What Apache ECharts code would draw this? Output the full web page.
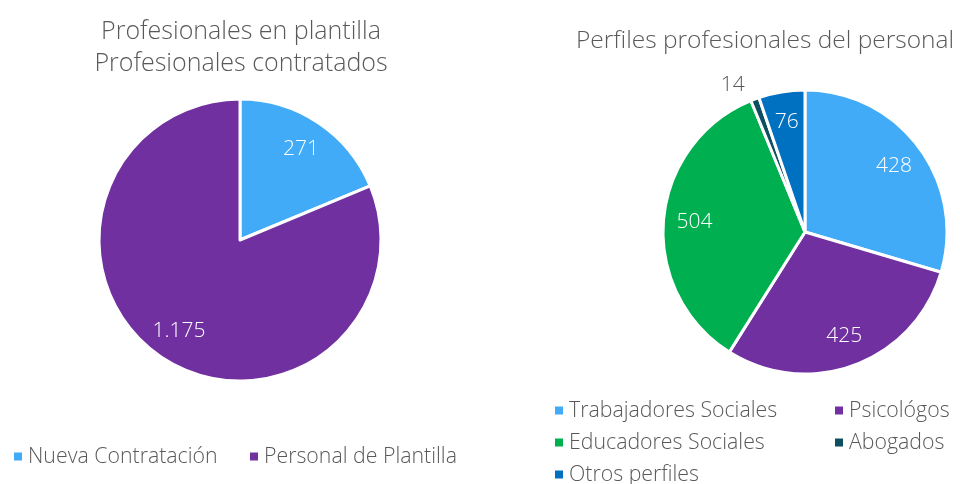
<!DOCTYPE html>
<html>
<head>
<meta charset="utf-8">
<script src="https://cdn.jsdelivr.net/npm/echarts@6/dist/echarts.min.js"></script>
<style>
  html, body { margin: 0; padding: 0; background: #fff; }
  #chart { width: 960px; height: 484px; }
</style>
</head>
<body>
<div id="chart"></div>
<script>
// left pie: contratados vs plantilla
var plantillaNames = ['Nueva Contratación', 'Personal de Plantilla'];
var plantillaValues = [271, 1175];
var plantillaColors = ['#41abf7', '#7030a0'];

// right pie: perfiles
var perfilNames = ['Trabajadores Sociales', 'Psicológos', 'Educadores Sociales', 'Abogados', 'Otros perfiles'];
var perfilValues = [428, 425, 504, 14, 76];
var perfilColors = ['#41abf7', '#7030a0', '#00b050', '#0d4f60', '#0070c0'];

var textGrey = '#595959';
var font = 'Open Sans';

function fmt(v) {
    // spanish thousands separator
    return String(v).replace(/\B(?=(\d{3})+(?!\d))/g, '.');
}

function pieData(names, values, colors) {
    return names.map(function (n, i) {
        return {name: n, value: values[i], itemStyle: {color: colors[i]}};
    });
}

// invisible ring, only used to put the labels further out than the middle
function labelData(names, values, outsideIdx) {
    return names.map(function (n, i) {
        var d = {name: n, value: values[i]};
        if (i === outsideIdx) {
            d.label = {position: 'outside', color: textGrey};
        }
        return d;
    });
}

function legendItem(name, left, top) {
    return {
        data: [name],
        left: left,
        top: top,
        padding: 0,
        icon: 'rect',
        itemWidth: 10,
        itemHeight: 10,
        itemGap: 8,
        selectedMode: false,
        textStyle: {fontFamily: font, fontWeight: 300, fontSize: 21.3, color: textGrey}
    };
}

var chart = echarts.init(document.getElementById('chart'));

var option = {
    animation: false,
    title: [
        {
            text: 'Profesionales en plantilla\nProfesionales contratados',
            left: 236,
            textAlign: 'center',
            top: 11,
            textStyle: {fontFamily: font, fontWeight: 300, fontSize: 25, color: textGrey, lineHeight: 32}
        },
        {
            text: 'Perfiles profesionales del personal',
            left: 765,
            textAlign: 'center',
            top: 29,
            padding: 0,
            textStyle: {fontFamily: font, fontWeight: 300, fontSize: 24.5, color: textGrey}
        }
    ],
    legend: [
        legendItem('Nueva Contratación', 12, 446),
        legendItem('Personal de Plantilla', 248, 446),
        legendItem('Trabajadores Sociales', 553, 400),
        legendItem('Psicológos', 833, 400),
        legendItem('Educadores Sociales', 553, 432),
        legendItem('Abogados', 833, 432),
        legendItem('Otros perfiles', 553, 464)
    ],
    series: [
        {
            type: 'pie',
            center: [240, 240],
            radius: [0, 141],
            startAngle: 90,
            silent: true,
            itemStyle: {borderColor: '#fff', borderWidth: 3},
            label: {show: false},
            labelLine: {show: false},
            data: pieData(plantillaNames, plantillaValues, plantillaColors)
        },
        {
            type: 'pie',
            center: [240, 240],
            radius: [73, 141],
            startAngle: 90,
            silent: true,
            legendHoverLink: false,
            itemStyle: {color: 'rgba(0,0,0,0)'},
            label: {
                show: true,
                position: 'inside',
                fontFamily: font,
                fontWeight: 300,
                fontSize: 21,
                color: '#fff',
                formatter: function (p) { return fmt(p.value); }
            },
            labelLine: {show: false},
            data: labelData(plantillaNames, plantillaValues, -1)
        },
        {
            type: 'pie',
            center: [805, 232],
            radius: [0, 142],
            startAngle: 90,
            silent: true,
            itemStyle: {borderColor: '#fff', borderWidth: 3},
            label: {show: false},
            labelLine: {show: false},
            data: pieData(perfilNames, perfilValues, perfilColors)
        },
        {
            type: 'pie',
            center: [805, 232],
            radius: [74, 142],
            startAngle: 90,
            silent: true,
            legendHoverLink: false,
            itemStyle: {color: 'rgba(0,0,0,0)'},
            label: {
                show: true,
                position: 'inside',
                fontFamily: font,
                fontWeight: 300,
                fontSize: 21,
                color: '#fff',
                formatter: function (p) { return fmt(p.value); }
            },
            labelLine: {show: false, length: 15, length2: 0},
            data: labelData(perfilNames, perfilValues, 3)
        }
    ]
};

chart.setOption(option);
</script>
</body>
</html>
